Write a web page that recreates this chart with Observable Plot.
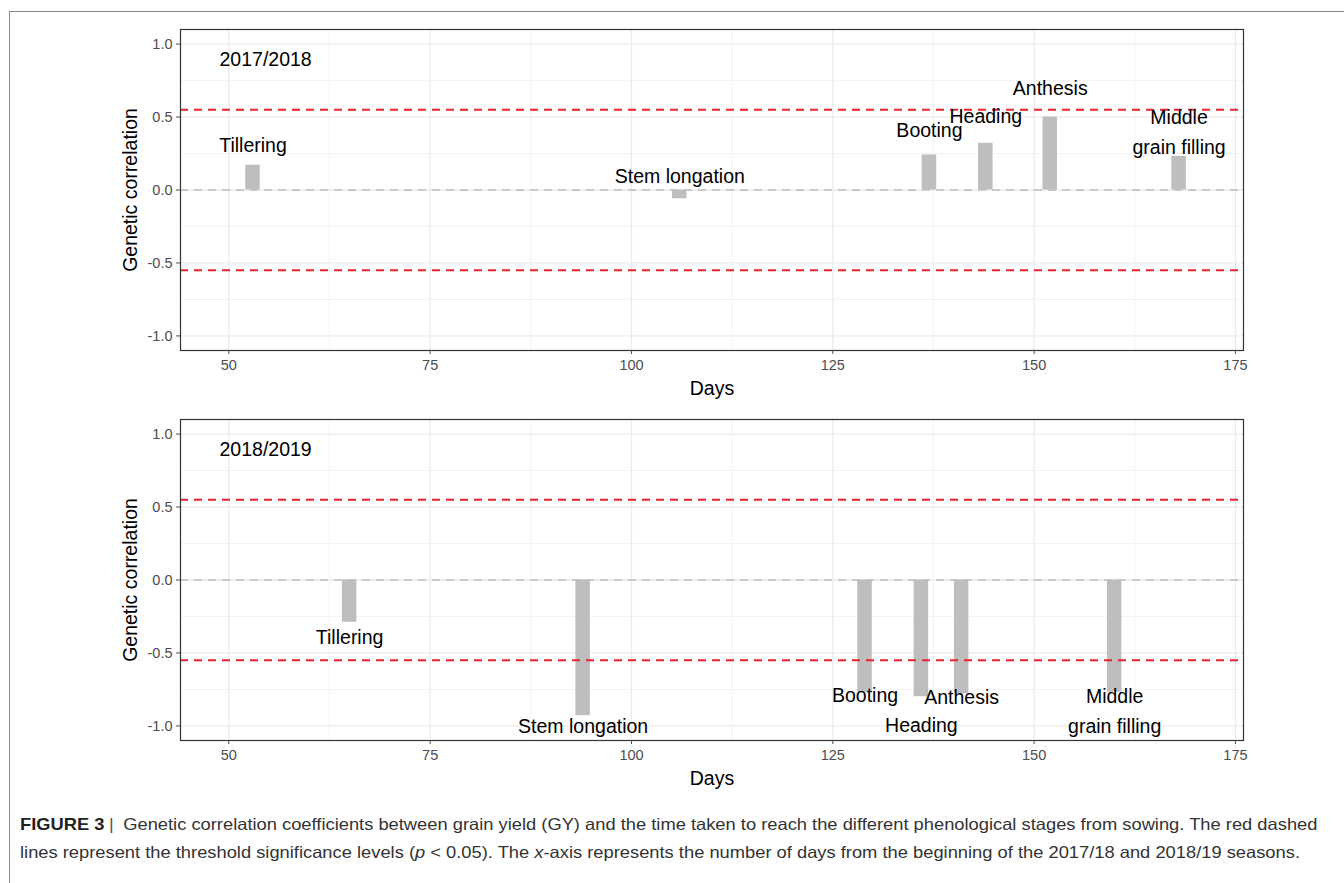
<!DOCTYPE html>
<html>
<head>
<meta charset="utf-8">
<script src="https://cdn.jsdelivr.net/npm/d3@7"></script>
<script src="https://cdn.jsdelivr.net/npm/@observablehq/plot@0.6"></script>
<style>
  html, body { margin: 0; padding: 0; background: white; }
  body { width: 1344px; height: 883px; position: relative; overflow: hidden; font-family: "Liberation Sans", Arial, sans-serif; }
  #frame { position: absolute; left: 9px; top: 11px; width: 1400px; height: 900px; border-top: 1.5px solid #8a8a8a; border-left: 1.5px solid #8a8a8a; }
  #top { position: absolute; left: 0; top: 0; }
  #bottom { position: absolute; left: 0; top: 390px; }
  .cap { position: absolute; left: 20px; font-size: 16.5px; color: #333; white-space: nowrap; transform: scaleX(1.11); transform-origin: left center; }
  .cap b { color: #222; }
  .sep { font-weight: normal; padding: 0 4px; color: #555; }
</style>
</head>
<body>
<div id="frame"></div>
<div id="top"></div>
<div id="bottom"></div>
<div class="cap" id="cap1" style="top:815px"><b>FIGURE 3</b><span class="sep">|</span> Genetic correlation coefficients between grain yield (GY) and the time taken to reach the different phenological stages from sowing. The red dashed</div>
<div class="cap" id="cap2" style="top:843px">lines represent the threshold significance levels (<i>p</i> &lt; 0.05). The <i>x</i>-axis represents the number of days from the beginning of the 2017/18 and 2018/19 seasons.</div>
<script>
// ---- data ----
const stages = ["Tillering", "Stem longation", "Booting", "Heading", "Anthesis", "Middle\ngrain filling"];
const seasons = ["2017/2018", "2018/2019"];
const days2018 = [53, 106, 137, 144, 152, 168];
const corr2018 = [0.17, -0.06, 0.24, 0.32, 0.50, 0.23];
const labelY2018 = [0.30, 0.09, 0.40, 0.50, 0.69, 0.39];
const days2019 = [65, 94, 129, 136, 141, 160];
const corr2019 = [-0.29, -0.93, -0.77, -0.80, -0.78, -0.77];
const labelY2019 = [-0.40, -1.01, -0.80, -1.00, -0.81, -0.905];
const threshold = [0.55, -0.55];
const xTicks = [50, 75, 100, 125, 150, 175];
const xMinor = [62.5, 87.5, 112.5, 137.5, 162.5];
const yTicks = [-1, -0.5, 0, 0.5, 1];
const yMinor = [-0.75, -0.25, 0.25, 0.75];
const xLabel = "Days";
const yLabel = "Genetic correlation";

const barHalf = 0.9;
const font = "Liberation Sans, Arial, sans-serif";

function panel(days, corr, labelY, season) {
  const data = days.map((d, i) => ({day: d, r: corr[i], stage: stages[i], ly: labelY[i]}));
  return Plot.plot({
    width: 1344,
    height: 400,
    marginLeft: 180,
    marginRight: 101,
    marginTop: 29,
    marginBottom: 50,
    style: {fontFamily: font, background: "transparent", overflow: "visible"},
    x: {domain: [44, 176]},
    y: {domain: [-1.1, 1.1]},
    marks: [
      Plot.gridX(xMinor, {stroke: "#EBEBEB", strokeOpacity: 1, strokeWidth: 0.6}),
      Plot.gridY(yMinor, {stroke: "#EBEBEB", strokeOpacity: 1, strokeWidth: 0.6}),
      Plot.gridX(xTicks, {stroke: "#EBEBEB", strokeOpacity: 1, strokeWidth: 1.3}),
      Plot.gridY(yTicks, {stroke: "#EBEBEB", strokeOpacity: 1, strokeWidth: 1.3}),
      Plot.ruleY([0], {stroke: "#BDBDBD", strokeWidth: 1.6, strokeDasharray: "8,6"}),
      Plot.rectY(data, {x1: d => d.day - barHalf, x2: d => d.day + barHalf, y1: 0, y2: "r", fill: "#BEBEBE"}),
      Plot.ruleY(threshold, {stroke: "#E3262B", strokeWidth: 2, strokeDasharray: "8,6"}),
      Plot.text(data, {x: "day", y: "ly", text: "stage", fontSize: 19.5, fill: "black", lineHeight: 1.55, dy: -4}),
      Plot.text([season], {frameAnchor: "top-left", textAnchor: "start", lineAnchor: "middle", dx: 39, dy: 30, fontSize: 19.5, fill: "black"}),
      Plot.frame({stroke: "#333", strokeWidth: 1.2}),
      Plot.axisX(xTicks, {tickSize: 4, tickPadding: 5, fontSize: 14.5, color: "#4D4D4D", label: null, tickFormat: d => String(d)}),
      Plot.axisY(yTicks, {tickSize: 4, tickPadding: 4, fontSize: 14.5, color: "#4D4D4D", label: null, tickFormat: d => d.toFixed(1)}),
      Plot.text([xLabel], {frameAnchor: "bottom", lineAnchor: "middle", dy: 38, fontSize: 19.5, fill: "black"}),
      Plot.text([yLabel], {frameAnchor: "left", textAnchor: "middle", rotate: -90, dx: -50, fontSize: 19.5, fill: "black"})
    ]
  });
}

document.getElementById("top").append(panel(days2018, corr2018, labelY2018, seasons[0]));
document.getElementById("bottom").append(panel(days2019, corr2019, labelY2019, seasons[1]));
</script>
</body>
</html>
